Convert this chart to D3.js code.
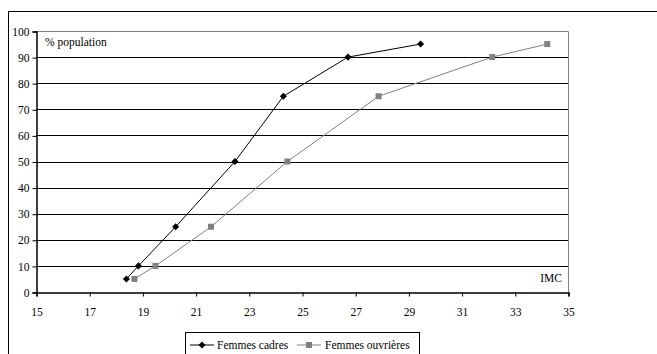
<!DOCTYPE html>
<html>
<head>
<meta charset="utf-8">
<script src="https://cdn.jsdelivr.net/npm/d3@7"></script>
<style>
  html, body { margin: 0; padding: 0; background: #fff; }
  svg { display: block; }
</style>
</head>
<body>
<svg id="chart" width="657" height="354"></svg>
<script>
// Cumulative share of the population (%) against body mass index (IMC)
const percentiles = [5, 10, 25, 50, 75, 90, 95];
const imcCadres = [18.4, 18.85, 20.25, 22.48, 24.3, 26.73, 29.46];
const imcOuvrieres = [18.7, 19.49, 21.58, 24.45, 27.88, 32.15, 34.22];
const xTicks = [15, 17, 19, 21, 23, 25, 27, 29, 31, 33, 35];
const yTicks = [0, 10, 20, 30, 40, 50, 60, 70, 80, 90, 100];
const seriesNames = ["Femmes cadres", "Femmes ouvrières"];

const FONT = '"Liberation Serif", "Times New Roman", serif';
const setFont = sel => sel.style("font-family", FONT).style("font-size", "11.5px").style("fill", "#000");

const svg = d3.select("#chart");

// Outer chart frame (continues past the right and bottom edges)
svg.append("rect")
  .attr("x", 8.5).attr("y", 11.5)
  .attr("width", 700).attr("height", 400)
  .attr("fill", "none").attr("stroke", "#000").attr("stroke-width", 1);

const plot = { left: 36, right: 568, top: 31, bottom: 292 };

const x = d3.scaleLinear().domain([15, 35]).range([plot.left, plot.right]);
const y = d3.scaleLinear().domain([0, 100]).range([plot.bottom, plot.top]);

// Horizontal gridlines
svg.append("g")
  .selectAll("line")
  .data(yTicks.filter(v => v > 0 && v < 100))
  .join("line")
  .attr("x1", plot.left).attr("x2", plot.right)
  .attr("y1", d => Math.round(y(d)) + 0.5).attr("y2", d => Math.round(y(d)) + 0.5)
  .attr("stroke", "#000").attr("stroke-width", 1);

// Top and right edges of the plot area
svg.append("path")
  .attr("d", `M${plot.left},${plot.top + 0.5}H${plot.right + 0.5}V${plot.bottom}`)
  .attr("fill", "none").attr("stroke", "#808080").attr("stroke-width", 1);

// Y axis
const yAxis = d3.axisLeft(y).tickValues(yTicks).tickSize(4).tickPadding(3).tickFormat(d3.format("d"));
const gy = svg.append("g").attr("transform", `translate(${plot.left + 0.5},0.5)`).call(yAxis);
gy.select(".domain").attr("stroke", "#000").attr("stroke-width", 1.5);
gy.selectAll(".tick line").attr("stroke", "#000");
gy.selectAll(".tick text").call(setFont);

// X axis
const xAxis = d3.axisBottom(x).tickValues(xTicks).tickSize(4).tickPadding(11).tickFormat(d3.format("d"));
const gx = svg.append("g").attr("transform", `translate(0.5,${plot.bottom + 0.5})`).call(xAxis);
gx.select(".domain").attr("stroke", "#000").attr("stroke-width", 1.5);
gx.selectAll(".tick line").attr("stroke", "#000");
gx.selectAll(".tick text").call(setFont);

// Axis titles inside the plot area
svg.append("text").attr("x", plot.left + 9).attr("y", plot.top + 15).text("% population").call(setFont);
svg.append("text").attr("x", plot.right - 6).attr("y", plot.bottom - 10)
  .attr("text-anchor", "end").text("IMC").call(setFont);

const line = d3.line().x(d => x(d[0])).y(d => y(d[1]));

const cadres = imcCadres.map((v, i) => [v, percentiles[i]]);
const ouvrieres = imcOuvrieres.map((v, i) => [v, percentiles[i]]);

const diamond = d3.symbol().type(d3.symbolDiamond2).size(32);

// Femmes ouvrières: grey line with square markers
svg.append("path").datum(ouvrieres)
  .attr("d", line).attr("fill", "none").attr("stroke", "#808080").attr("stroke-width", 1);
svg.append("g").selectAll("rect").data(ouvrieres).join("rect")
  .attr("x", d => x(d[0]) - 3).attr("y", d => y(d[1]) - 3)
  .attr("width", 6).attr("height", 6).attr("fill", "#808080");

// Femmes cadres: black line with diamond markers
svg.append("path").datum(cadres)
  .attr("d", line).attr("fill", "none").attr("stroke", "#000").attr("stroke-width", 1);
svg.append("g").selectAll("path").data(cadres).join("path")
  .attr("transform", d => `translate(${x(d[0])},${y(d[1])})`)
  .attr("d", diamond).attr("fill", "#000");

// Legend
const legend = svg.append("g");
legend.append("rect")
  .attr("x", 185.5).attr("y", 332.5).attr("width", 234).attr("height", 30)
  .attr("fill", "#fff").attr("stroke", "#000").attr("stroke-width", 1);
const legY = 345;
legend.append("line").attr("x1", 190).attr("x2", 214).attr("y1", legY).attr("y2", legY)
  .attr("stroke", "#000");
legend.append("path").attr("transform", `translate(202,${legY})`).attr("d", diamond).attr("fill", "#000");
legend.append("text").attr("x", 217).attr("y", legY + 4).text(seriesNames[0]).call(setFont);
legend.append("line").attr("x1", 297).attr("x2", 321).attr("y1", legY).attr("y2", legY)
  .attr("stroke", "#808080");
legend.append("rect").attr("x", 306).attr("y", legY - 3).attr("width", 6).attr("height", 6).attr("fill", "#808080");
legend.append("text").attr("x", 325).attr("y", legY + 4).text(seriesNames[1]).call(setFont);
</script>
</body>
</html>
